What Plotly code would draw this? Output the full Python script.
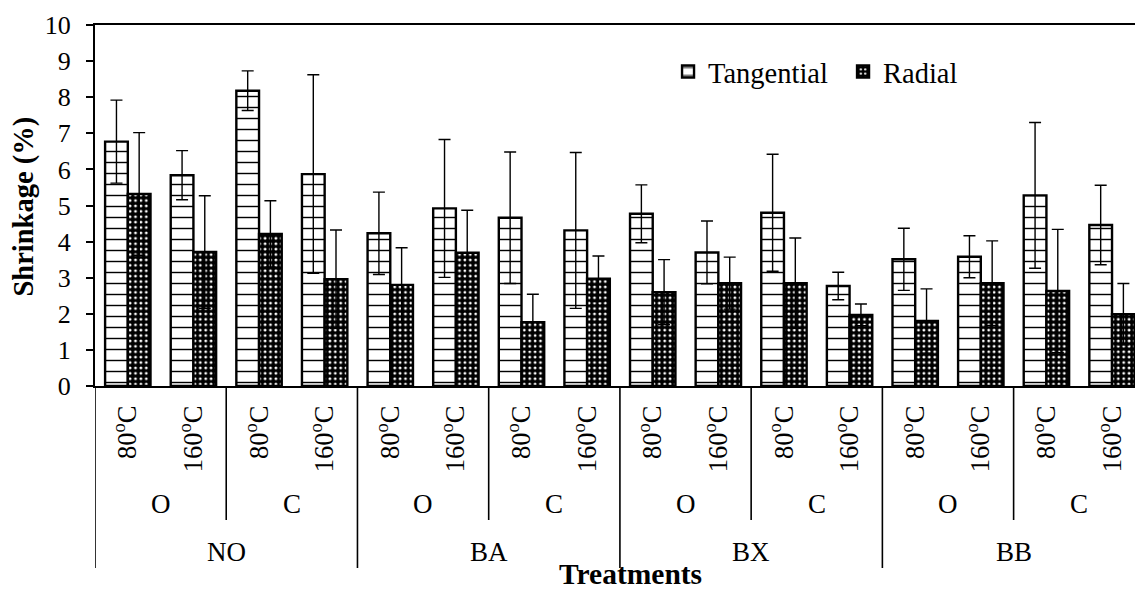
import plotly.graph_objects as go

# Treatment hierarchy: species group -> drying method -> temperature
groups = ["NO", "BA", "BX", "BB"]
methods = ["O", "C"]
temps = ["80<sup>o</sup>C", "160<sup>o</sup>C"]

# Mean shrinkage (%) and standard deviation per treatment (16 combinations)
tangential = [6.77, 5.84, 8.18, 5.87, 4.23, 4.92, 4.66, 4.31,
              4.77, 3.70, 4.80, 2.77, 3.51, 3.58, 5.28, 4.46]
tangential_sd = [1.15, 0.68, 0.55, 2.75, 1.14, 1.91, 1.82, 2.16,
                 0.80, 0.87, 1.62, 0.38, 0.86, 0.58, 2.02, 1.10]
radial = [5.32, 3.71, 4.21, 2.96, 2.80, 3.69, 1.77, 2.97,
          2.60, 2.85, 2.85, 1.97, 1.80, 2.85, 2.63, 1.99]
radial_sd = [1.70, 1.56, 0.92, 1.36, 1.03, 1.18, 0.77, 0.63,
             0.90, 0.72, 1.25, 0.30, 0.89, 1.17, 1.71, 0.85]

y_ticks = list(range(0, 11))

FONT = "Times New Roman"

categories = [f"{g}|{m}|{t}" for g in groups for m in methods for t in temps]
tick_text = [t for g in groups for m in methods for t in temps]

fig = go.Figure()

fig.add_trace(go.Bar(
    name="Tangential", x=categories, y=tangential,
    marker=dict(color="white", line=dict(color="black", width=2.4),
                pattern=dict(shape="-", size=11, solidity=0.13,
                             fgcolor="black", bgcolor="white", fillmode="replace")),
    error_y=dict(type="data", array=tangential_sd, symmetric=True,
                 color="black", thickness=1.4, width=6),
))
fig.add_trace(go.Bar(
    name="Radial", x=categories, y=radial,
    marker=dict(color="black", line=dict(color="black", width=2.4),
                pattern=dict(shape=".", size=5.4, solidity=0.22,
                             fgcolor="white", bgcolor="black", fillmode="replace")),
    error_y=dict(type="data", array=radial_sd, symmetric=True,
                 color="black", thickness=1.4, width=6),
))

# Plot area spans y pixels 25 (value 10) to 386 (value 0)
plot_top, plot_bottom = 25, 386
plot_h = plot_bottom - plot_top


def paper_y(py):
    return (plot_bottom - py) / plot_h


def txt_font(size):
    return dict(family=FONT, size=size, color="black")


shapes = []
annotations = []
n_per_group = len(methods) * len(temps)
for gi, g in enumerate(groups):
    start = gi * n_per_group
    # long separator at the start of each species group
    shapes.append(dict(type="line", xref="x", yref="paper",
                       x0=start - 0.5, x1=start - 0.5,
                       y0=0, y1=paper_y(568),
                       line=dict(color="black", width=1.6)))
    annotations.append(dict(text=g, xref="x", yref="paper",
                            x=start + (n_per_group - 1) / 2, y=paper_y(552),
                            showarrow=False, font=txt_font(27),
                            xanchor="center", yanchor="middle"))
    for mi, m in enumerate(methods):
        mstart = start + mi * len(temps)
        if mi > 0:
            shapes.append(dict(type="line", xref="x", yref="paper",
                               x0=mstart - 0.5, x1=mstart - 0.5,
                               y0=0, y1=paper_y(520),
                               line=dict(color="black", width=1.6)))
        annotations.append(dict(text=m, xref="x", yref="paper",
                                x=mstart + (len(temps) - 1) / 2, y=paper_y(504),
                                showarrow=False, font=txt_font(27),
                                xanchor="center", yanchor="middle"))

annotations.append(dict(text="<b>Treatments</b>", xref="paper", yref="paper",
                        x=0.515, y=paper_y(574), showarrow=False,
                        font=txt_font(29.5),
                        xanchor="center", yanchor="middle"))
annotations.append(dict(text="<b>Shrinkage (%)</b>", xref="paper", yref="paper",
                        x=(23 - 95) / 1040, y=paper_y(206.5), showarrow=False,
                        textangle=-90, font=txt_font(28.5),
                        xanchor="center", yanchor="middle"))

fig.update_layout(
    width=1135, height=592,
    margin=dict(l=95, r=0, t=25, b=206),
    paper_bgcolor="white", plot_bgcolor="white",
    barmode="group", bargap=0.308, bargroupgap=0,
    showlegend=True,
    legend=dict(orientation="h", x=0.551, y=paper_y(72), xanchor="left", yanchor="middle",
                font=txt_font(28.5), entrywidth=130, entrywidthmode="pixels",
                bgcolor="rgba(0,0,0,0)", itemclick=False, traceorder="normal"),
    shapes=shapes,
    annotations=annotations,
)

fig.update_xaxes(
    type="category", range=[-0.5, 15.35],
    tickvals=categories, ticktext=tick_text, tickangle=-90,
    tickfont=txt_font(26.5),
    ticks="", showgrid=False, zeroline=False,
    showline=True, linecolor="black", linewidth=2, mirror=True,
    ticklabelstandoff=7,
)
fig.update_yaxes(
    range=[0, 10], tickvals=y_ticks,
    tickfont=txt_font(26),
    ticks="outside", ticklen=7, tickwidth=1.5, tickcolor="black",
    showgrid=False, zeroline=False,
    showline=True, linecolor="black", linewidth=2,
    ticklabelstandoff=10,
)

fig.write_html("out.html")
